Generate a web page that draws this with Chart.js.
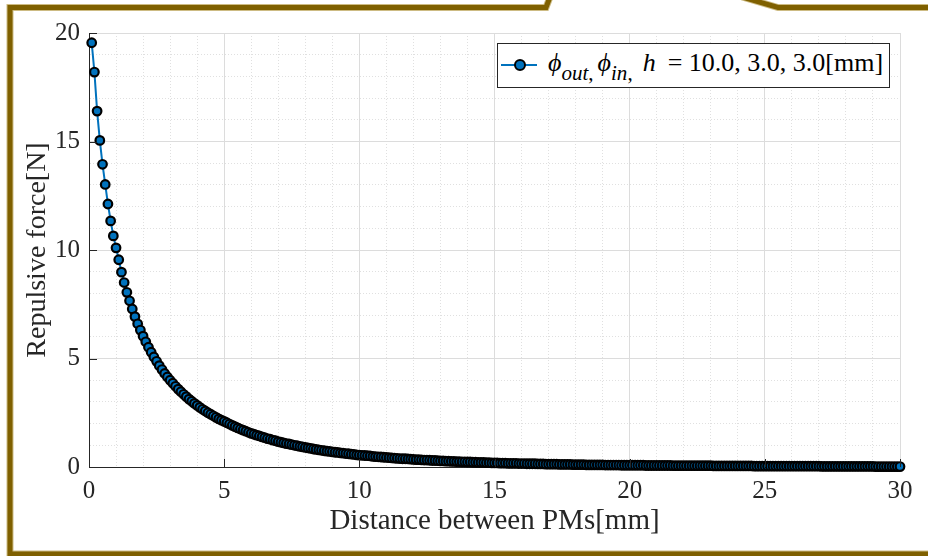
<!DOCTYPE html>
<html>
<head>
<meta charset="utf-8">
<script src="https://cdn.jsdelivr.net/npm/chart.js@4.4.1/dist/chart.umd.min.js"></script>
<style>
  html, body { margin: 0; padding: 0; background: #fff; }
  #wrap { position: relative; width: 928px; height: 556px; overflow: hidden; }
  #chart { position: absolute; left: 0; top: 0; }
  #legend {
    position: absolute; left: 497px; top: 43px; width: 391px; height: 43px;
    border: 1px solid #262626; background: #fff;
    font-family: 'Liberation Serif', 'Times New Roman', serif; font-size: 26px; color: #000;
  }
  #legend .line { position: absolute; left: 3px; top: 20px; width: 36px; height: 2px; background: #0072BD; }
  #legend .dot {
    position: absolute; left: 16px; top: 15px; width: 8px; height: 8px; border-radius: 50%;
    background: #0072BD; border: 2px solid #000;
  }
  #legend .txt { position: absolute; left: 50px; top: 6px; line-height: 26px; white-space: pre; }
  #legend sub { font-size: 21px; vertical-align: -9px; line-height: 0; margin-right: 4px; }
  #legend .h { margin-left: 6px; margin-right: 12px; }
</style>
</head>
<body>
<div id="wrap">
  <canvas id="chart" width="928" height="556"></canvas>
  <div id="legend">
    <span class="line"></span><span class="dot"></span>
    <span class="txt"><i>ϕ</i><sub><i>out</i>,</sub><i>ϕ</i><sub><i>in</i>,</sub><i class="h">h</i>= 10.0, 3.0, 3.0[mm]</span>
  </div>
</div>
<script>
// distance between PMs [mm]: sampled every 0.1 mm from 0.1 to 30
const distStart = 0.1;
const distStep = 0.1;

// repulsive force [N] (one row per mm)
const force = [
  19.55, 18.20, 16.40, 15.05, 13.95, 13.02, 12.12, 11.34, 10.65, 10.10,
  9.55, 8.98, 8.50, 8.05, 7.66, 7.28, 6.93, 6.60, 6.31, 6.03,
  5.77, 5.52, 5.29, 5.07, 4.87, 4.67, 4.49, 4.31, 4.15, 4.00,
  3.86, 3.72, 3.59, 3.47, 3.35, 3.24, 3.13, 3.03, 2.93, 2.84,
  2.75, 2.66, 2.58, 2.50, 2.43, 2.36, 2.29, 2.22, 2.16, 2.10,
  2.04, 1.98, 1.92, 1.86, 1.80, 1.75, 1.70, 1.65, 1.60, 1.55,
  1.51, 1.47, 1.43, 1.39, 1.35, 1.31, 1.28, 1.24, 1.21, 1.17,
  1.14, 1.11, 1.08, 1.06, 1.03, 1.00, 0.98, 0.95, 0.93, 0.90,
  0.88, 0.86, 0.83, 0.81, 0.79, 0.77, 0.75, 0.73, 0.72, 0.70,
  0.68, 0.67, 0.65, 0.64, 0.62, 0.61, 0.59, 0.58, 0.56, 0.55,
  0.54, 0.53, 0.52, 0.51, 0.49, 0.48, 0.47, 0.46, 0.45, 0.44,
  0.43, 0.42, 0.41, 0.40, 0.39, 0.38, 0.38, 0.37, 0.36, 0.35,
  0.34, 0.34, 0.33, 0.32, 0.32, 0.31, 0.30, 0.30, 0.29, 0.28,
  0.28, 0.27, 0.27, 0.26, 0.26, 0.25, 0.25, 0.24, 0.24, 0.23,
  0.23, 0.22, 0.22, 0.21, 0.21, 0.21, 0.20, 0.20, 0.19, 0.19,
  0.19, 0.18, 0.18, 0.18, 0.17, 0.17, 0.17, 0.17, 0.16, 0.16,
  0.16, 0.15, 0.15, 0.15, 0.15, 0.14, 0.14, 0.14, 0.13, 0.13,
  0.13, 0.13, 0.13, 0.12, 0.12, 0.12, 0.12, 0.12, 0.11, 0.11,
  0.11, 0.11, 0.11, 0.10, 0.10, 0.10, 0.10, 0.10, 0.10, 0.10,
  0.09, 0.09, 0.09, 0.09, 0.09, 0.09, 0.08, 0.08, 0.08, 0.08,
  0.08, 0.08, 0.08, 0.08, 0.08, 0.07, 0.07, 0.07, 0.07, 0.07,
  0.07, 0.07, 0.07, 0.07, 0.07, 0.06, 0.06, 0.06, 0.06, 0.06,
  0.06, 0.06, 0.06, 0.06, 0.06, 0.06, 0.06, 0.06, 0.06, 0.06,
  0.05, 0.05, 0.05, 0.05, 0.05, 0.05, 0.05, 0.05, 0.05, 0.05,
  0.05, 0.05, 0.05, 0.05, 0.05, 0.04, 0.04, 0.04, 0.04, 0.04,
  0.04, 0.04, 0.04, 0.04, 0.04, 0.04, 0.04, 0.04, 0.04, 0.04,
  0.04, 0.04, 0.04, 0.04, 0.04, 0.04, 0.04, 0.04, 0.04, 0.04,
  0.03, 0.03, 0.03, 0.03, 0.03, 0.03, 0.03, 0.03, 0.03, 0.03,
  0.03, 0.03, 0.03, 0.03, 0.03, 0.03, 0.03, 0.03, 0.03, 0.03,
  0.02, 0.02, 0.02, 0.02, 0.02, 0.02, 0.02, 0.02, 0.02, 0.02
];

const xTicks = [0, 5, 10, 15, 20, 25, 30];
const yTicks = [0, 5, 10, 15, 20];

const points = force.map((f, i) => ({ x: +(distStart + i * distStep).toFixed(1), y: f }));

const serif = 'Liberation Serif';
const axisColor = '#262626';

const isMajor = (v, list) => list.includes(Math.round(v * 1000) / 1000);

// frame around the figure + inward tick marks like MATLAB
const decor = {
  id: 'decor',
  beforeDraw(chart) {
    const ctx = chart.ctx;
    ctx.save();
    ctx.fillStyle = '#fff';
    ctx.fillRect(0, 0, chart.width, chart.height);
    ctx.lineJoin = 'miter';
    const drawFrame = (w, c) => {
      ctx.strokeStyle = c;
      ctx.lineWidth = w;
      ctx.beginPath();
      ctx.moveTo(550, -3);
      ctx.lineTo(546, 7.5);
      ctx.lineTo(10, 7.5);
      ctx.lineTo(10, 554);
      ctx.lineTo(935, 554);
      ctx.stroke();
      ctx.beginPath();
      ctx.moveTo(742, -3);
      ctx.lineTo(778, 7.5);
      ctx.lineTo(935, 7.5);
      ctx.stroke();
    };
    drawFrame(7, '#cdbb83');
    drawFrame(5, '#7f6000');
    ctx.restore();
  },
  afterDraw(chart) {
    const { ctx, chartArea, scales } = chart;
    ctx.save();
    ctx.strokeStyle = axisColor;
    ctx.lineWidth = 1;
    ctx.beginPath();
    xTicks.forEach(v => {
      const px = Math.round(scales.x.getPixelForValue(v)) + 0.5;
      ctx.moveTo(px, chartArea.bottom);
      ctx.lineTo(px, chartArea.bottom - 8);
    });
    yTicks.forEach(v => {
      const py = Math.round(scales.y.getPixelForValue(v)) + 0.5;
      ctx.moveTo(chartArea.left, py);
      ctx.lineTo(chartArea.left + 8, py);
    });
    ctx.stroke();
    ctx.restore();
  }
};

new Chart(document.getElementById('chart'), {
  type: 'line',
  data: {
    datasets: [{
      data: points,
      borderColor: '#0072BD',
      borderWidth: 2,
      pointRadius: 4.3,
      pointBackgroundColor: '#0072BD',
      pointBorderColor: '#000',
      pointBorderWidth: 2.2,
      tension: 0,
      clip: false
    }]
  },
  options: {
    responsive: false,
    animation: false,
    events: [],
    layout: { padding: { top: 33, right: 28, left: 0, bottom: 0 } },
    plugins: { legend: { display: false }, tooltip: { enabled: false } },
    scales: {
      x: {
        type: 'linear', min: 0, max: 30,
        afterFit: s => { s.height = 89; s.paddingLeft = 0; s.paddingRight = 0; },
        ticks: {
          stepSize: 1, autoSkip: false, maxRotation: 0, padding: 9,
          color: axisColor, font: { family: serif, size: 25 },
          callback: v => isMajor(v, xTicks) ? String(v) : ''
        },
        grid: {
          drawTicks: false,
          color: c => isMajor(c.tick.value, xTicks) ? '#dcdcdc' : '#e0e0e0',
          lineWidth: 1
        },
        border: {
          display: true, color: axisColor, width: 1,
          dash: c => (c.tick && !isMajor(c.tick.value, xTicks)) ? [1, 2] : []
        },
        title: {
          display: true, text: 'Distance between PMs[mm]', color: axisColor,
          font: { family: serif, size: 29 }, padding: { top: 17, bottom: 17 }
        }
      },
      y: {
        type: 'linear', min: 0, max: 20,
        afterFit: s => { s.width = 89; s.paddingTop = 0; s.paddingBottom = 0; },
        ticks: {
          stepSize: 1, autoSkip: false, padding: 9,
          color: axisColor, font: { family: serif, size: 25 },
          callback: v => isMajor(v, yTicks) ? String(v) : ''
        },
        grid: {
          drawTicks: false,
          color: c => isMajor(c.tick.value, yTicks) ? '#dcdcdc' : '#e0e0e0',
          lineWidth: 1
        },
        border: {
          display: true, color: axisColor, width: 1,
          dash: c => (c.tick && !isMajor(c.tick.value, yTicks)) ? [1, 2] : []
        },
        title: {
          display: true, text: 'Repulsive force[N]', color: axisColor,
          font: { family: serif, size: 28 }, padding: { top: 21, bottom: 21 }
        }
      }
    }
  },
  plugins: [decor]
});
</script>
</body>
</html>
